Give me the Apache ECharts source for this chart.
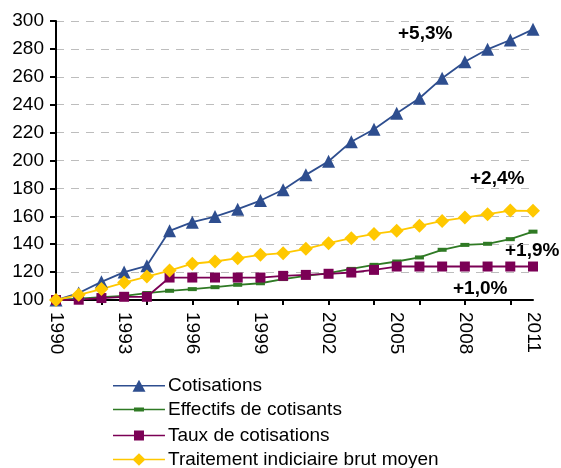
<!DOCTYPE html>
<html><head><meta charset="utf-8">
<script src="https://cdn.jsdelivr.net/npm/echarts@6/dist/echarts.min.js"></script>
<style>html,body{margin:0;padding:0;background:#fff}#c{width:561px;height:468px}</style>
</head><body><div id="c"></div>
<script>
var years = ['1990','1991','1992','1993','1994','1995','1996','1997','1998','1999','2000','2001','2002','2003','2004','2005','2006','2007','2008','2009','2010','2011'];
var cotisations = [100,105,113,120,124.5,149.6,155.8,159.8,165.1,171.3,179,189.7,199.5,213.5,222.4,233.9,244.6,259,270.8,279.7,286.4,294];
var effectifs = [100,101,102,103,105,106.6,107.8,109.2,110.9,112,115,117.3,119.3,122.3,125.2,127.6,130.5,136,139.5,140.3,143.6,149];
var taux = [100,100.2,101.4,102.3,102.3,116.1,116.1,116.1,116.1,116.1,117.3,118,118.8,119.7,121.6,124,124,124,124,124,124,124];
var traitement = [100,103.7,107.8,112.5,116.8,121.1,126,127.6,130,132.4,133.6,136.7,140.7,144.3,147.4,149.6,153.2,156.7,159.1,161.5,164.1,163.9];
var seriesNames = ['Cotisations','Effectifs de cotisants','Taux de cotisations','Traitement indiciaire brut moyen'];
var annotations = ['+5,3%','+2,4%','+1,9%','+1,0%'];
var yTicks = {min:100, max:300, interval:20};

var FONT = '"Liberation Sans", Arial, sans-serif';
var colors = ['#2E4E8F','#2F7A24','#7B0055','#FFC800'];
var icons = [
  'path://M0,0h0.01v0.01h-0.01z M0,5.8h52v1.4h-52z M26,0.5L32.5,12.5h-13z',
  'path://M0,0h0.01v0.01h-0.01z M0,5.8h52v1.4h-52z M21,4.5h10v4h-10z M0,13h0.01v0.01h-0.01z',
  'path://M0,0h0.01v0.01h-0.01z M0,5.8h52v1.4h-52z M21,1.5h10v10h-10z M0,13h0.01v0.01h-0.01z',
  'path://M0,0h0.01v0.01h-0.01z M0,5.8h52v1.4h-52z M26,0.2L32.5,6.5L26,12.8L19.5,6.5z M0,13h0.01v0.01h-0.01z'
];
var rowTops = [376, 400, 426, 450];
var chart = echarts.init(document.getElementById('c'));
function annot(text, x, y){
  return {type:'text', left:x, top:y, style:{text:text, font:'bold 19px ' + FONT, fill:'#000'}};
}
var legends = seriesNames.map(function(n, i){
  return {
    orient:'vertical', left:113, top:rowTops[i], padding:0, itemWidth:52, itemHeight:13, itemGap:0,
    textStyle:{fontFamily:FONT, fontSize:19, color:'#000', padding:[0,0,0,-2]},
    data:[{name:n, icon:icons[i]}]
  };
});
chart.setOption({
  animation:false,
  backgroundColor:'#fff',
  grid:{left:56, right:28, top:21, bottom:168, containLabel:false},
  legend:legends,
  xAxis:{
    type:'category', data:years, boundaryGap:false,
    axisLine:{lineStyle:{color:'#000', width:2}},
    axisTick:{show:true, interval:1, length:5, lineStyle:{color:'#000', width:2}},
    axisLabel:{interval:2, rotate:-90, fontFamily:FONT, fontSize:19, color:'#000', margin:12},
    splitLine:{show:false}
  },
  yAxis:{
    type:'value', min:yTicks.min, max:yTicks.max, interval:yTicks.interval,
    axisLine:{show:true, lineStyle:{color:'#000', width:2}},
    axisTick:{show:true, length:6, lineStyle:{color:'#000', width:2}},
    axisLabel:{fontFamily:FONT, fontSize:19, color:'#000', margin:12},
    splitLine:{show:true, lineStyle:{color:'#bdbdbd', type:[8,7], width:1}}
  },
  series:[
    {name:seriesNames[0], type:'line', data:cotisations, symbol:'triangle', symbolSize:13,
     itemStyle:{color:colors[0]}, lineStyle:{color:colors[0], width:1.8}},
    {name:seriesNames[1], type:'line', data:effectifs, symbol:'rect', symbolSize:[9,4],
     itemStyle:{color:colors[1]}, lineStyle:{color:colors[1], width:1.8}},
    {name:seriesNames[2], type:'line', data:taux, symbol:'rect', symbolSize:10,
     itemStyle:{color:colors[2]}, lineStyle:{color:colors[2], width:1.8}},
    {name:seriesNames[3], type:'line', data:traitement, symbol:'diamond', symbolSize:14,
     itemStyle:{color:colors[3]}, lineStyle:{color:colors[3], width:1.8}}
  ],
  graphic:[
    annot(annotations[0], 398, 24),
    annot(annotations[1], 470, 169),
    annot(annotations[2], 505, 241),
    annot(annotations[3], 453, 279)
  ]
});
</script></body></html>
